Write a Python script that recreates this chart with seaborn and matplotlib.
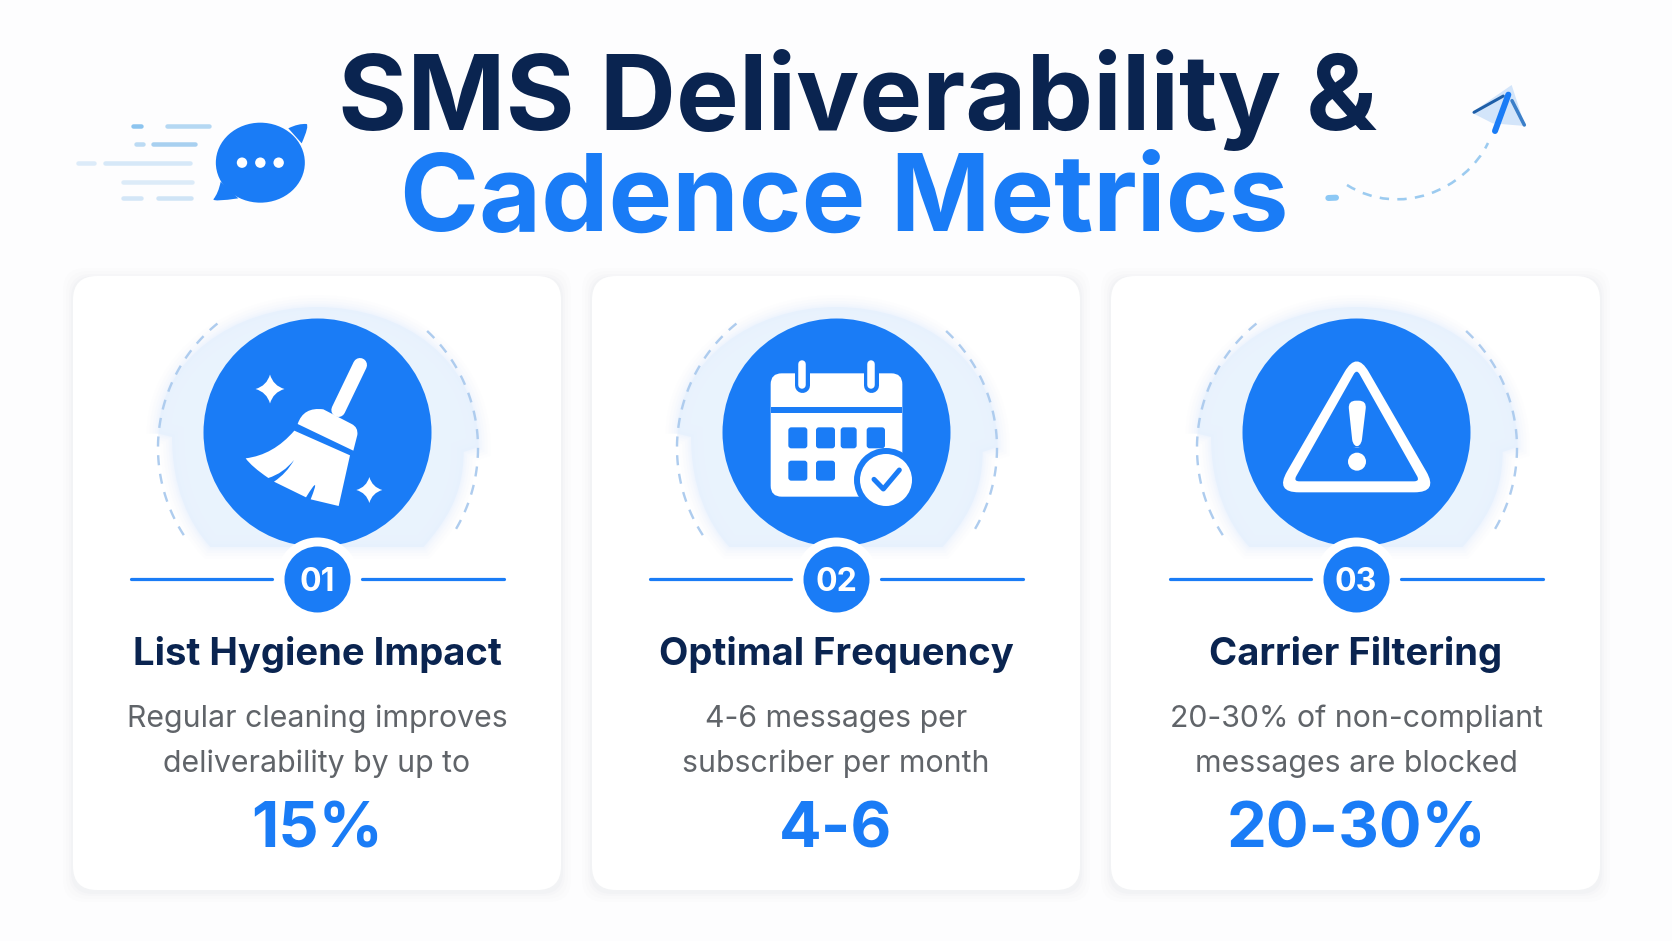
import numpy as np
import matplotlib
matplotlib.use("Agg")
import matplotlib.pyplot as plt
import seaborn as sns
from matplotlib.patches import FancyBboxPatch, PathPatch, Circle, Polygon, Ellipse
from matplotlib.path import Path

title_top = "SMS Deliverability &"
title_bottom = "Cadence Metrics"
badge_labels = ["01", "02", "03"]
card_titles = ["List Hygiene Impact", "Optimal Frequency", "Carrier Filtering"]
desc_first = ["Regular cleaning improves", "4-6 messages per", "20-30% of non-compliant"]
desc_second = ["deliverability by up to", "subscriber per month", "messages are blocked"]
card_stats = ["15%", "4-6", "20-30%"]

NAVY = "#0A2450"
BLUE = "#1A7CF6"
GRAY = "#606469"
HALO = "#E6F1FD"
DASH = "#AECCEE"
PX = 0.72  # one pixel in points at dpi 100

card_left = [73, 592, 1111]
card_right = [561, 1080, 1600]
card_cx = [317, 836, 1356]

sns.set_theme(style="white")
plt.rcParams["font.family"] = ["Inter", "DejaVu Sans"]

fig, ax = plt.subplots(figsize=(16.72, 9.41), dpi=100)
fig.subplots_adjust(0, 0, 1, 1)
fig.patch.set_facecolor("#FDFDFE")
ax.set_facecolor("#FDFDFE")
ax.set_xlim(0, 1672)
ax.set_ylim(941, 0)
ax.axis("off")


def curved(points, **kw):
    # points: (x, y, code) with code as matplotlib path code
    verts = [(p[0], p[1]) for p in points]
    codes = [p[2] for p in points]
    patch = PathPatch(Path(verts, codes), **kw)
    ax.add_patch(patch)
    return patch


def sparkle(x, y, r, color="white", z=6):
    M, Q = Path.MOVETO, Path.CURVE3
    k = r * .22
    pts = [(x, y - r), (x + k, y - k), (x + r, y), (x + k, y + k),
           (x, y + r), (x - k, y + k), (x - r, y), (x - k, y - k), (x, y - r)]
    codes = [M, Q, Q, Q, Q, Q, Q, Q, Q]
    ax.add_patch(PathPatch(Path(pts, codes), fc=color, ec="none", zorder=z))


def rounded_poly(pts, rad):
    pts = np.array(pts, float)
    n = len(pts)
    verts, codes = [], []
    for i in range(n):
        p, a, b = pts[i], pts[i - 1], pts[(i + 1) % n]
        s = p + (a - p) / np.linalg.norm(a - p) * rad
        e = p + (b - p) / np.linalg.norm(b - p) * rad
        verts += [s, p, e]
        codes += [Path.MOVETO if i == 0 else Path.LINETO, Path.CURVE3, Path.CURVE3]
    verts.append(verts[0])
    codes.append(Path.CLOSEPOLY)
    return Path(verts, codes)


def draw_card(left, right):
    top, bottom = 276, 890
    for grow, alpha in [(10, .006), (7, .008), (4, .012), (2, .016)]:
        ax.add_patch(FancyBboxPatch((left - grow + 22, top - grow + 24), right - left + 2 * grow - 44,
                                    bottom - top + 2 * grow - 44, boxstyle="round,pad=22,rounding_size=22",
                                    fc="#20406F", ec="none", alpha=alpha, zorder=1))
    ax.add_patch(FancyBboxPatch((left + 24, top + 24), right - left - 48, bottom - top - 48,
                                boxstyle="round,pad=24,rounding_size=24", fc="white", ec="none", zorder=2))


def draw_halo(cx):
    cy = 432
    M, L, C = Path.MOVETO, Path.LINETO, Path.CURVE4
    z = [((295, 490), M), ((295, 270), C), ((520, 110), C), ((770, 110), C),
         ((1030, 110), C), ((1255, 270), C), ((1255, 530), C), ((1210, 545), L),
         ((1210, 680), C), ((1150, 760), C), ((1090, 830), C), ((450, 830), L),
         ((385, 760), C), ((335, 650), C), ((335, 500), C), ((295, 490), L)]
    pts = [(cx + (p[0] - 770) / 3, cy + (p[1] - 485) / 3, c) for p, c in z]
    # soft edge: stacked translucent outlines
    for lw, a in [(24, .08), (18, .1), (12, .14), (7, .18), (3, .22)]:
        curved(pts, fc="none", ec=HALO, lw=lw * PX, alpha=a, zorder=2.5)
    curved(pts, fc=HALO, ec="none", alpha=.85, zorder=2.6)
    # dashed ring either side
    for a0, a1 in [(147, 233), (-47, 33)]:
        t = np.radians(np.linspace(a0, a1, 90))
        ax.plot(cx + 1 + 160 * np.cos(t), 448 + 160 * np.sin(t), color=DASH, lw=2.4 * PX,
                dashes=(4.2, 3.6), zorder=2.8)


def broom(ox, oy):
    f = lambda x, y: (ox + x / 3, oy + y / 3)
    ax.plot(*zip(f(900, 285), f(835, 420)), color="white", lw=14 * PX, solid_capstyle="round", zorder=6)
    M, L, Q = Path.MOVETO, Path.LINETO, Path.CURVE3
    ferrule = [(713, 462, M), (730, 410, Q), (790, 418, Q), (875, 462, L), (895, 472, Q), (892, 495, Q),
               (880, 542, L), (713, 462, L)]
    curved([(*f(a, b), c) for a, b, c in ferrule], fc="white", ec="none", zorder=6)
    bristle = [(703, 482, M), (870, 556, L), (836, 708, L), (752, 688, L), (785, 605, Q), (738, 682, Q),
               (642, 635, L), (680, 610, Q), (702, 570, Q), (670, 610, Q), (625, 624, Q),
               (575, 590, Q), (557, 565, Q), (640, 555, Q), (703, 482, Q)]
    curved([(*f(a, b), c) for a, b, c in bristle], fc="white", ec="none", zorder=6)
    sparkle(*f(630, 357), 14.5)
    sparkle(*f(928, 660), 13)


def calendar(ox, oy):
    f = lambda x, y: (ox + x / 3, oy + y / 3)
    x0, y0 = f(542, 310)
    x1, y1 = f(937, 680)
    ax.add_patch(FancyBboxPatch((x0 + 11, y0 + 11), x1 - x0 - 22, y1 - y0 - 22, boxstyle="round,pad=11,rounding_size=11",
                                fc="white", ec="none", zorder=6))
    ax.plot([x0, x1], [oy + 419 / 3] * 2, color=BLUE, lw=6 * PX, solid_capstyle="butt", zorder=6.2)
    for zx in (635, 843):
        ax.plot(*zip(f(zx, 285), f(zx, 345)), color=BLUE, lw=15 * PX, solid_capstyle="round", zorder=6.3)
        ax.plot(*zip(f(zx, 282), f(zx, 345)), color="white", lw=7.5 * PX, solid_capstyle="round", zorder=6.4)
    rows = [(472, 535, [(595, 652), (678, 735), (752, 800), (830, 885)]), (572, 632, [(595, 652), (678, 735)])]
    for ya, yb, cols in rows:
        for xa, xb in cols:
            px, py = f(xa, ya)
            qx, qy = f(xb, yb)
            ax.add_patch(FancyBboxPatch((px + 3, py + 3), qx - px - 6, qy - py - 6, boxstyle="round,pad=3,rounding_size=3",
                                        fc=BLUE, ec="none", zorder=6.5))
    cc = f(888, 630)
    ax.add_patch(Circle(cc, 32, fc=BLUE, ec="none", zorder=7))
    ax.add_patch(Circle(cc, 26, fc="white", ec="none", zorder=7.1))
    ax.plot(*zip(f(852, 628), f(880, 657), f(928, 600)), color=BLUE, lw=5 * PX, zorder=7.2,
            solid_capstyle="round", solid_joinstyle="round")


def warning(ox, oy):
    f = lambda x, y: (ox + x / 3, oy + y / 3)
    outer = rounded_poly([f(740, 243), f(495, 667), f(985, 667)], 24)
    ax.add_patch(PathPatch(outer, fc="white", ec="none", zorder=6))
    inner = rounded_poly([f(740, 297), f(550, 634), f(930, 634)], 6)
    ax.add_patch(PathPatch(inner, fc=BLUE, ec="none", zorder=6.1))
    mark = rounded_poly([f(714, 392), f(770, 392), f(753, 532), f(729, 532)], 8)
    ax.add_patch(PathPatch(mark, fc="white", ec="none", zorder=6.2))
    ax.add_patch(Circle(f(741, 575), 9, fc="white", ec="none", zorder=6.2))


def header_art():
    f = lambda x, y: (60 + x / 3, 100 + y / 3)
    # speed lines next to the bubble
    lines = [(78, 315, 453, "#B5D8F3"), (78, 213, 250, "#8CC4EF"), (131, 272, 410, "#A8D0F0"), (131, 222, 255, "#BCDBF4"),
             (189, 128, 397, "#D6E8F8"), (189, 48, 108, "#DCEBF9"), (245, 182, 403, "#DCEBF8"),
             (295, 182, 248, "#D3E6F7"), (295, 287, 398, "#CFE4F6")]
    for y, a, b, col in lines:
        ax.plot(*zip(f(a + 6, y), f(b - 6, y)), color=col, lw=4.5 * PX, solid_capstyle="round", zorder=2)
    # bubble
    ax.add_patch(Ellipse(f(601, 188), 89, 80, fc=BLUE, ec="none", zorder=3))
    M, L, Q = Path.MOVETO, Path.LINETO, Path.CURVE3
    tail = [(685, 85, M), (715, 70, Q), (740, 72, Q), (748, 78, Q), (725, 130, Q), (685, 85, L)]
    curved([(*f(a, b), c) for a, b, c in tail], fc=BLUE, ec="none", zorder=3)
    tail2 = [(482, 245, M), (475, 280, Q), (460, 298, Q), (462, 306, Q), (535, 295, Q), (482, 245, L)]
    curved([(*f(a, b), c) for a, b, c in tail2], fc=BLUE, ec="none", zorder=3)
    for zx in (546, 601, 656):
        ax.add_patch(Circle(f(zx, 188), 5.2, fc="white", ec="none", zorder=4))
    # paper plane and its dashed trail
    g = lambda x, y: (1310 + x / 3, 70 + y / 3)
    C = Path.CURVE4
    trail = Path([(1347, 185), (1400, 218), (1465, 190), (1488, 143)], [M, C, C, C])
    ax.add_patch(PathPatch(trail, fc="none", ec="#9CCBF0", lw=2.6 * PX, ls=(0, (3.6, 3.2)), zorder=2))
    ax.plot(*zip(g(55, 384), g(78, 383)), color="#8CC8F5", lw=6 * PX, solid_capstyle="round", zorder=2)
    ax.add_patch(Polygon([g(605, 45), g(485, 128), g(548, 160), g(645, 168)], fc="#D3E5FA", ec="none", zorder=3))
    ax.plot(*zip(g(492, 127), g(580, 78)), color="#1F5FA8", lw=3 * PX, solid_capstyle="round", zorder=4)
    ax.plot(*zip(g(606, 92), g(643, 165)), color="#3B7FC9", lw=3.5 * PX, solid_capstyle="round", zorder=4)
    ax.plot(*zip(g(595, 74), g(555, 183)), color=BLUE, lw=6 * PX, solid_capstyle="round", zorder=5)


header_art()
for left, right, cx in zip(card_left, card_right, card_cx):
    draw_card(left, right)
    draw_halo(cx)

# big icon discs, number badges and rule lines
sns.scatterplot(x=card_cx, y=[432] * 3, s=(228 * PX) ** 2, color=BLUE, linewidth=0, zorder=5, ax=ax, legend=False)
sns.scatterplot(x=card_cx, y=[579] * 3, s=(84 * PX) ** 2, color="white", linewidth=0, zorder=5.5, ax=ax, legend=False)
sns.scatterplot(x=card_cx, y=[579] * 3, s=(66 * PX) ** 2, color=BLUE, linewidth=0, zorder=5.6, ax=ax, legend=False)
for cx in card_cx:
    for a, b in [(-186, -45), (45, 187)]:
        sns.lineplot(x=[cx + a, cx + b], y=[579, 579], color=BLUE, lw=3.2 * PX, ax=ax, zorder=3, legend=False)

broom(60, 270)
calendar(590, 270)
warning(1110, 270)

ax.text(857, 130, title_top, color=NAVY, fontsize=76, fontweight="bold", ha="center", va="baseline", zorder=8)
ax.text(844, 231, title_bottom, color=BLUE, fontsize=77, fontweight="bold", ha="center", va="baseline", zorder=8)

for i, cx in enumerate(card_cx):
    ax.text(cx, 579, badge_labels[i], color="white", fontsize=23, fontweight="bold", ha="center", va="center_baseline", zorder=8)
    ax.text(cx, 665, card_titles[i], color=NAVY, fontsize=27.5, fontweight="bold", ha="center", va="baseline", zorder=8)
    ax.text(cx, 727, desc_first[i], color=GRAY, fontsize=21.8, ha="center", va="baseline", zorder=8)
    ax.text(cx, 772, desc_second[i], color=GRAY, fontsize=21.8, ha="center", va="baseline", zorder=8)
    ax.text(cx, 847, card_stats[i], color=BLUE, fontsize=45.5, fontweight="bold", ha="center", va="baseline", zorder=8)

fig.savefig("out.png", dpi=100, facecolor=fig.get_facecolor())
